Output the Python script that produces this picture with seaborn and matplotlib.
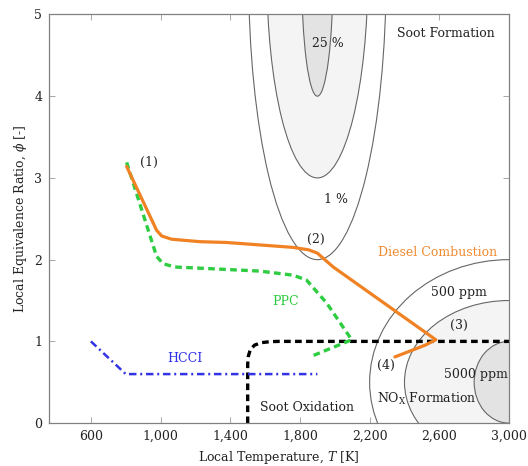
import matplotlib
matplotlib.use("Agg")
import matplotlib.pyplot as plt
from matplotlib.patches import Ellipse
from matplotlib.ticker import FuncFormatter
import seaborn as sns

# values
diesel_T = [805, 977, 1006, 1063, 1226, 1379, 1570, 1761, 1850, 1900, 1991, 2580, 2520, 2345]
diesel_phi = [3.14, 2.36, 2.29, 2.25, 2.22, 2.21, 2.18, 2.15, 2.12, 2.08, 1.91, 1.02, 0.955, 0.81]

ppc_T = [805, 977, 1015, 1082, 1283, 1570, 1761, 1838, 1953, 2097, 1857]
ppc_phi = [3.19, 2.04, 1.95, 1.91, 1.89, 1.86, 1.81, 1.75, 1.47, 1.02, 0.81]

hcci_T = [600, 800, 1900]
hcci_phi = [1.0, 0.6, 0.6]

oxid_T = [1500, 1500, 1504, 1515, 1540, 1580, 1630, 1680, 3000]
oxid_phi = [0.0, 0.72, 0.82, 0.9, 0.955, 0.985, 0.997, 1.0, 1.0]

# ellipse islands: centre, half widths (outer -> inner)
soot_center = (1900, 5.5)
soot_rx = [395, 290, 90]
soot_ry = [3.5, 2.5, 1.5]
nox_center = (3000, 0.5)
nox_rx = [800, 600, 200]
nox_ry = [1.5, 1.0, 0.5]
island_fill = ['white', '#f4f4f4', '#e3e3e3']

x_ticks = [600, 1000, 1400, 1800, 2200, 2600, 3000]
y_ticks = [0, 1, 2, 3, 4, 5]

sns.set_theme(style="ticks")
plt.rcParams['font.family'] = ['DejaVu Serif']
plt.rcParams['mathtext.fontset'] = 'dejavuserif'

fig = plt.figure(figsize=(5.28, 4.66), dpi=100)
ax = fig.add_axes([0.093, 0.092, 0.871, 0.877])

# soot formation and NOx formation regions
for rx, ry, fc in zip(soot_rx, soot_ry, island_fill):
    ax.add_patch(Ellipse(soot_center, 2 * rx, 2 * ry, facecolor=fc,
                         edgecolor='#666666', lw=0.8, zorder=1))
for rx, ry, fc in zip(nox_rx, nox_ry, island_fill):
    ax.add_patch(Ellipse(nox_center, 2 * rx, 2 * ry, facecolor=fc,
                         edgecolor='#666666', lw=0.8, zorder=1))

# combustion paths
sns.lineplot(x=oxid_T, y=oxid_phi, sort=False, estimator=None, ax=ax,
             color='black', lw=2.4, linestyle=(0, (2.0, 1.3)), zorder=3)
sns.lineplot(x=hcci_T, y=hcci_phi, sort=False, estimator=None, ax=ax,
             color='#3333e6', lw=1.8, linestyle=(0, (3.0, 1.5, 0.8, 1.5)), zorder=3)
sns.lineplot(x=ppc_T, y=ppc_phi, sort=False, estimator=None, ax=ax,
             color='#2ecc40', lw=2.4, linestyle=(0, (2.0, 1.3)), zorder=4)
sns.lineplot(x=diesel_T, y=diesel_phi, sort=False, estimator=None, ax=ax,
             color='#f08224', lw=2.3, zorder=5)

# annotations
txt = dict(ha='center', va='center', fontsize=9, color='#222222', zorder=6)
ax.text(935, 3.19, '(1)', **txt)
ax.text(1893, 2.25, '(2)', **txt)
ax.text(2710, 1.19, '(3)', **txt)
ax.text(2296, 0.70, '(4)', **txt)
ax.text(1960, 4.65, '25 %', **txt)
ax.text(2008, 2.73, '1 %', **txt)
ax.text(2640, 4.77, 'Soot Formation', **txt)
ax.text(2710, 1.60, '500 ppm', **txt)
ax.text(2810, 0.60, '5000 ppm', **txt)
ax.text(2530, 0.30, r'NO$_\mathrm{X}$ Formation', **txt)
ax.text(1840, 0.19, 'Soot Oxidation', **txt)
ax.text(2590, 2.09, 'Diesel Combustion', ha='center', va='center',
        fontsize=9, color='#f08a30', zorder=6)
ax.text(1720, 1.49, 'PPC', ha='center', va='center', fontsize=9,
        color='#2ecc40', zorder=6)
ax.text(1142, 0.79, 'HCCI', ha='center', va='center', fontsize=9,
        color='#3333e6', zorder=6)

ax.set_xlim(360, 3000)
ax.set_ylim(0, 5)
ax.set_xticks(x_ticks)
ax.set_yticks(y_ticks)
ax.xaxis.set_major_formatter(FuncFormatter(lambda v, _: f"{int(v):,}"))
ax.set_xlabel(r'Local Temperature, $T$ [K]', fontsize=9, color='#222222')
ax.set_ylabel(r'Local Equivalence Ratio, $\phi$ [-]', fontsize=9, color='#222222')
ax.tick_params(direction='in', top=True, right=True, length=4, width=0.6,
               color='#999999', labelsize=9, labelcolor='#222222', pad=5)
for s in ax.spines.values():
    s.set_color('#808080')
    s.set_linewidth(0.9)
    s.set_zorder(7)

fig.savefig('out.png', dpi=100)
